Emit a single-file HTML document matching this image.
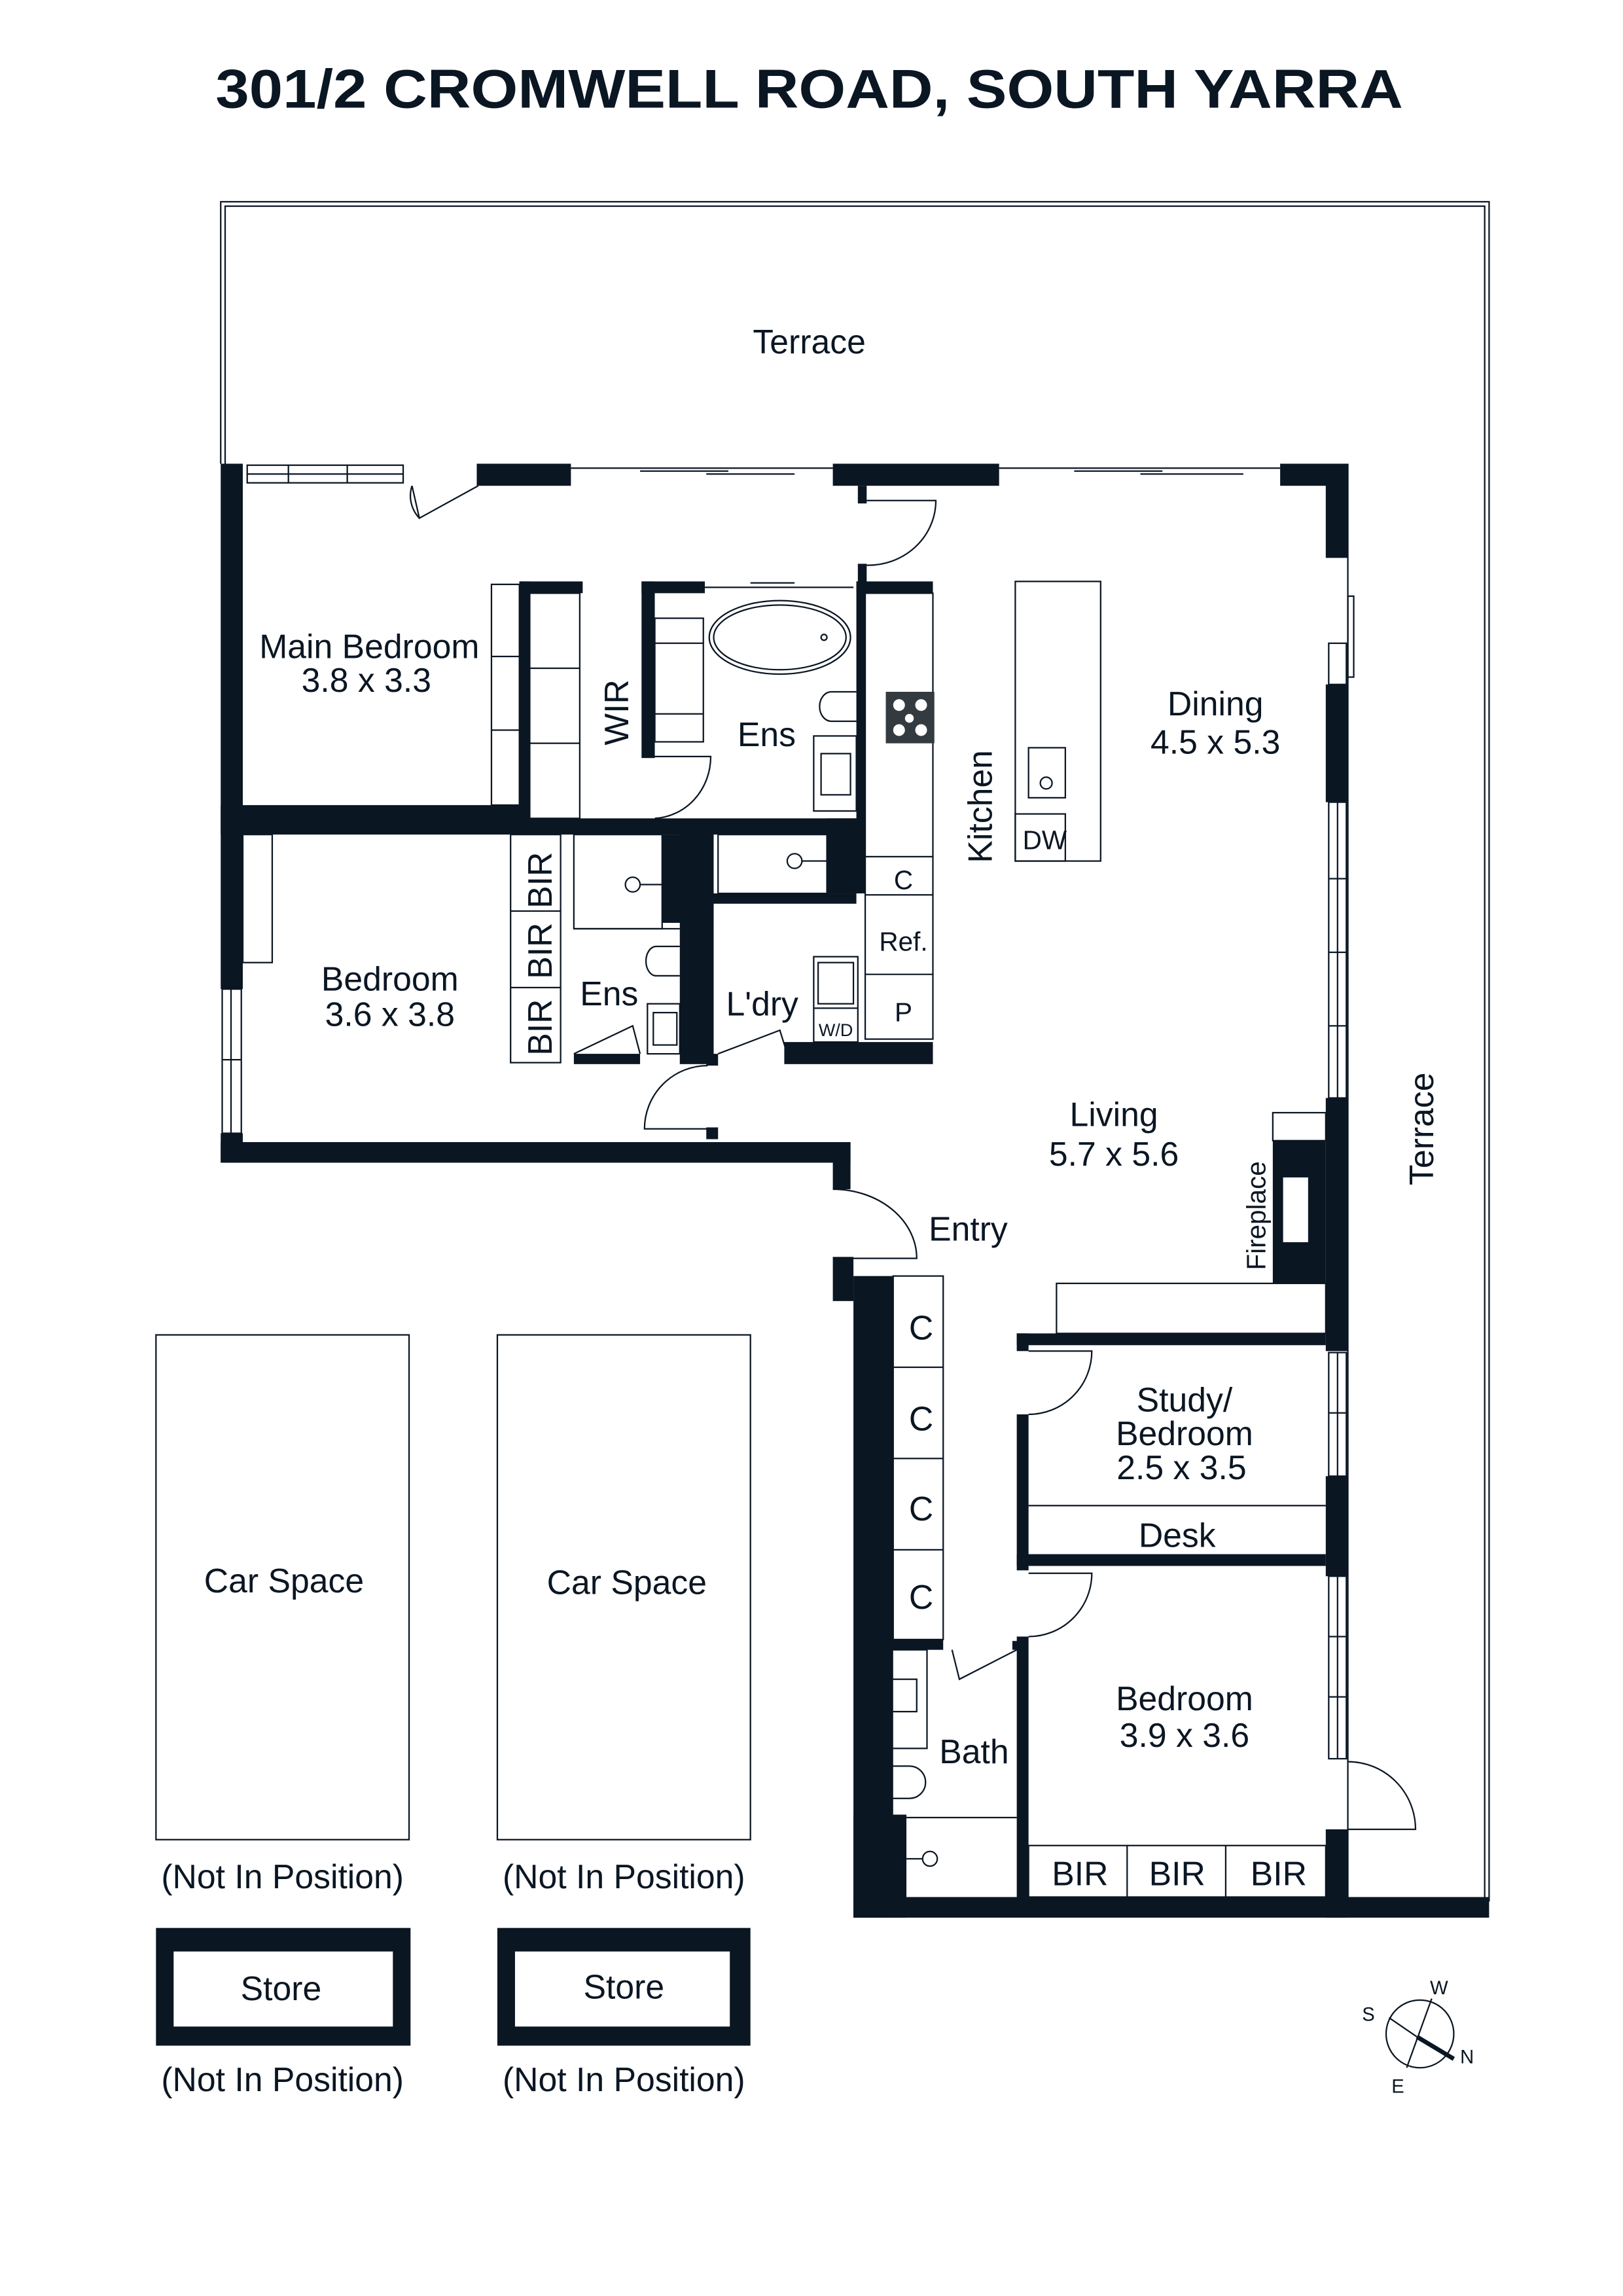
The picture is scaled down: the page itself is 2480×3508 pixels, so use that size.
<!DOCTYPE html>
<html><head><meta charset="utf-8"><style>
html,body{margin:0;padding:0;background:#fff;}
svg{display:block;}
text{font-family:"Liberation Sans",sans-serif;fill:#0b1623;}
</style></head><body>
<svg width="2480" height="3508" viewBox="0 0 1103 1560" xmlns="http://www.w3.org/2000/svg">
<g fill="#0b1623">
<text x="550" y="73" font-size="37" font-weight="bold" text-anchor="middle" textLength="807" lengthAdjust="spacingAndGlyphs">301/2 CROMWELL ROAD, SOUTH YARRA</text>
</g>
<g fill="none" stroke="#0b1623" stroke-width="1">
<path d="M150,315 V137 H1012 V1292"/>
<path d="M153,315 V140 H1009 V1292"/>
<path d="M916,315 V1292"/>
</g>
<g fill="#0b1623">
<rect x="150" y="315" width="15" height="357"/>
<rect x="150" y="770" width="15" height="20"/>
<rect x="324" y="315" width="64" height="15"/>
<rect x="566" y="315" width="113" height="15"/>
<rect x="583" y="330" width="6" height="12"/>
<rect x="583" y="383" width="6" height="14"/>
<rect x="870" y="315" width="46" height="15"/>
<rect x="901" y="315" width="15" height="64"/>
<rect x="901" y="465" width="15" height="80"/>
<rect x="901" y="746" width="15" height="172"/>
<rect x="901" y="1003" width="15" height="68"/>
<rect x="901" y="1243" width="15" height="60"/>
<rect x="150" y="547" width="208" height="20"/>
<rect x="353" y="395" width="7" height="172"/>
<rect x="353" y="395" width="43" height="8"/>
<rect x="358" y="556" width="225" height="11"/>
<rect x="436" y="395" width="43" height="8"/>
<rect x="436" y="395" width="9" height="120"/>
<rect x="582" y="395" width="6" height="165"/>
<rect x="562" y="556" width="26" height="51"/>
<rect x="582" y="395" width="52" height="8"/>
<rect x="450" y="567" width="35" height="60"/>
<rect x="462" y="567" width="23" height="156"/>
<rect x="485" y="607" width="97" height="7"/>
<rect x="533" y="708" width="101" height="15"/>
<rect x="390" y="716" width="45" height="7"/>
<rect x="480" y="716" width="8" height="8"/>
<rect x="480" y="766" width="8" height="8"/>
<rect x="150" y="776" width="428" height="14"/>
<rect x="566" y="776" width="12" height="32"/>
<rect x="566" y="854" width="14" height="30"/>
<rect x="580" y="867" width="27" height="436"/>
<rect x="580" y="1233" width="36" height="70"/>
<rect x="580" y="1289" width="432" height="14"/>
<rect x="691" y="906" width="210" height="8"/>
<rect x="691" y="906" width="8" height="12"/>
<rect x="691" y="961" width="8" height="106"/>
<rect x="691" y="1056" width="210" height="8"/>
<rect x="691" y="1112" width="8" height="180"/>
<rect x="688" y="1115" width="4" height="6"/>
<rect x="596" y="1114" width="45" height="7"/>
<rect x="865" y="775" width="36" height="97"/>
<rect x="872" y="800" width="17" height="44" fill="#fff"/>
<rect x="106" y="1310" width="173" height="80"/>
<rect x="118" y="1326" width="149" height="51" fill="#fff"/>
<rect x="338" y="1310" width="172" height="80"/>
<rect x="350" y="1326" width="146" height="51" fill="#fff"/>
</g>
<g fill="none" stroke="#0b1623" stroke-width="1">
<rect x="168" y="316" width="106" height="12"/><line x1="196" y1="316" x2="196" y2="328"/><line x1="236" y1="316" x2="236" y2="328"/><line x1="168" y1="322" x2="274" y2="322"/>
<line x1="388" y1="318" x2="566" y2="318"/><line x1="435" y1="320" x2="495" y2="320"/><line x1="480" y1="322" x2="540" y2="322"/>
<line x1="679" y1="318" x2="870" y2="318"/><line x1="730" y1="320" x2="790" y2="320"/><line x1="775" y1="322" x2="845" y2="322"/>
<path d="M280,330 L285,352 L325,330 M280,330 A22,22 0 0 0 285,352"/>
<path d="M589,340 H636 A46,44 0 0 1 589,384"/>
<rect x="903" y="437" width="12" height="28"/><rect x="916" y="405" width="4" height="55"/>
<rect x="903" y="545" width="12" height="201"/><line x1="909" y1="545" x2="909" y2="746"/>
<line x1="903" y1="597" x2="915" y2="597"/><line x1="903" y1="647" x2="915" y2="647"/><line x1="903" y1="697" x2="915" y2="697"/>
<rect x="903" y="919" width="12" height="84"/><line x1="909" y1="919" x2="909" y2="1003"/><line x1="903" y1="960" x2="915" y2="960"/>
<rect x="903" y="1071" width="12" height="124"/><line x1="909" y1="1071" x2="909" y2="1195"/><line x1="903" y1="1112" x2="915" y2="1112"/><line x1="903" y1="1153" x2="915" y2="1153"/>
<path d="M916,1197 A46,46 0 0 1 962,1243 H916"/>
<rect x="151" y="672" width="13" height="98"/><line x1="157" y1="672" x2="157" y2="770"/><line x1="151" y1="720" x2="164" y2="720"/>
<rect x="334" y="397" width="19" height="150"/><line x1="334" y1="446" x2="353" y2="446"/><line x1="334" y1="496" x2="353" y2="496"/>
<rect x="360" y="403" width="34" height="153"/><line x1="360" y1="454" x2="394" y2="454"/><line x1="360" y1="505" x2="394" y2="505"/>
<rect x="445" y="420" width="33" height="84"/><line x1="445" y1="437" x2="478" y2="437"/><line x1="445" y1="485" x2="478" y2="485"/>
<path d="M445,514 H483 A40,42 0 0 1 445,556"/>
<line x1="479" y1="399" x2="580" y2="399"/><line x1="510" y1="396" x2="540" y2="396"/>
<ellipse cx="530" cy="433" rx="48" ry="25"/><ellipse cx="530" cy="433" rx="45" ry="22"/>
<circle cx="560" cy="433" r="2"/>
<path d="M582,470 H565 A8,10 0 0 0 565,490 H582"/>
<rect x="553" y="500" width="29" height="51"/><rect x="558" y="512" width="20" height="28"/>
<rect x="588" y="403" width="46" height="303"/>
<line x1="588" y1="582" x2="634" y2="582"/><line x1="588" y1="608" x2="634" y2="608"/><line x1="588" y1="662" x2="634" y2="662"/>
<rect x="690" y="395" width="58" height="190"/><rect x="690" y="553" width="34" height="32"/>
<rect x="699" y="508" width="25" height="34"/><circle cx="711" cy="532" r="4"/>
<line x1="488" y1="561" x2="562" y2="561"/><rect x="488" y="567" width="74" height="40"/>
<circle cx="540" cy="585" r="5"/><line x1="545" y1="585" x2="562" y2="585"/>
<rect x="347" y="567" width="34" height="155"/><line x1="347" y1="619" x2="381" y2="619"/><line x1="347" y1="671" x2="381" y2="671"/>
<rect x="390" y="567" width="60" height="64"/><line x1="390" y1="631" x2="462" y2="631"/>
<circle cx="430" cy="601" r="5"/><line x1="435" y1="601" x2="450" y2="601"/>
<path d="M462,643 H446 A7,10 0 0 0 446,663 H462"/>
<rect x="440" y="682" width="22" height="34"/><rect x="444" y="688" width="16" height="22"/>
<path d="M390,716 L430,697 L435,716"/>
<path d="M488,716 L530,700 L535,716"/>
<rect x="553" y="650" width="30" height="58"/><rect x="556" y="654" width="24" height="28"/>
<line x1="553" y1="685" x2="583" y2="685"/>
<rect x="165" y="567" width="20" height="87"/>
<path d="M481,724 A43,43 0 0 0 438,767 H481"/>
<path d="M566,808 A57,47 0 0 1 623,855 H566"/>
<rect x="865" y="756" width="36" height="19"/>
<rect x="718" y="872" width="183" height="34"/>
<rect x="607" y="867" width="34" height="247"/><line x1="607" y1="929" x2="641" y2="929"/><line x1="607" y1="991" x2="641" y2="991"/><line x1="607" y1="1053" x2="641" y2="1053"/>
<path d="M699,918 H742 A43,43 0 0 1 699,961"/>
<line x1="699" y1="1023" x2="901" y2="1023"/>
<path d="M699,1069 H742 A43,43 0 0 1 699,1112"/>
<path d="M647,1121 L652,1141 L691,1121"/>
<rect x="596" y="1121" width="34" height="67"/><rect x="603" y="1141" width="20" height="22"/>
<path d="M596,1200 H618 A10,10 0 0 1 618,1222 H596"/>
<line x1="616" y1="1235" x2="691" y2="1235"/>
<circle cx="632" cy="1263" r="5"/><line x1="616" y1="1263" x2="627" y2="1263"/>
<rect x="699" y="1254" width="202" height="35"/><line x1="766" y1="1254" x2="766" y2="1289"/><line x1="833" y1="1254" x2="833" y2="1289"/>
<rect x="106" y="907" width="172" height="343"/><rect x="338" y="907" width="172" height="343"/>
<circle cx="965" cy="1382" r="23"/><line x1="973" y1="1358" x2="956" y2="1405"/>
<line x1="944" y1="1371" x2="963" y2="1384"/>
</g>
<line x1="963" y1="1384" x2="988" y2="1399" stroke="#0b1623" stroke-width="3"/>
<rect x="602" y="470" width="33" height="35" fill="#333a40"/>
<g fill="#fff"><circle cx="611" cy="479" r="4"/><circle cx="626" cy="479" r="4"/><circle cx="611" cy="496" r="4"/><circle cx="626" cy="496" r="4"/><circle cx="618" cy="488" r="3"/></g>
<g font-size="23" text-anchor="middle">
<text x="550" y="240">Terrace</text>
<text x="251" y="447">Main Bedroom</text><text x="249" y="470">3.8 x 3.3</text>
<text x="521" y="507">Ens</text>
<text x="826" y="486">Dining</text><text x="826" y="512">4.5 x 5.3</text>
<text x="265" y="673">Bedroom</text><text x="265" y="697">3.6 x 3.8</text>
<text x="414" y="683">Ens</text>
<text x="518" y="690">L'dry</text>
<text x="757" y="765">Living</text><text x="757" y="792">5.7 x 5.6</text>
<text x="658" y="843">Entry</text>
<text x="805" y="959">Study/</text><text x="805" y="982">Bedroom</text><text x="803" y="1005">2.5 x 3.5</text>
<text x="800" y="1051">Desk</text>
<text x="805" y="1162">Bedroom</text><text x="805" y="1187">3.9 x 3.6</text>
<text x="662" y="1198">Bath</text>
<text x="734" y="1281">BIR</text><text x="800" y="1281">BIR</text><text x="869" y="1281">BIR</text>
<text x="626" y="910">C</text><text x="626" y="972">C</text><text x="626" y="1033">C</text><text x="626" y="1093">C</text>
<text x="193" y="1082">Car Space</text><text x="426" y="1083">Car Space</text>
<text x="192" y="1283">(Not In Position)</text><text x="424" y="1283">(Not In Position)</text>
<text x="191" y="1359">Store</text><text x="424" y="1358">Store</text>
<text x="192" y="1421">(Not In Position)</text><text x="424" y="1421">(Not In Position)</text>
<text transform="translate(427,484) rotate(-90)">WIR</text>
<text transform="translate(674,548) rotate(-90)">Kitchen</text>
<text transform="translate(974,767) rotate(-90)">Terrace</text>
<text transform="translate(375,598) rotate(-90)">BIR</text>
<text transform="translate(375,646) rotate(-90)">BIR</text>
<text transform="translate(375,698) rotate(-90)">BIR</text>
</g>
<g font-size="18" text-anchor="middle">
<text x="614" y="604">C</text><text x="614" y="646">Ref.</text><text x="614" y="694">P</text>
<text x="710" y="577">DW</text>
<text transform="translate(860,826) rotate(-90)">Fireplace</text>
</g>
<text x="568" y="704" font-size="12" text-anchor="middle">W/D</text>
<g font-size="13" text-anchor="middle"><text x="978" y="1355">W</text><text x="930" y="1373">S</text><text x="997" y="1402">N</text><text x="950" y="1422">E</text></g>
</svg>
</body></html>
